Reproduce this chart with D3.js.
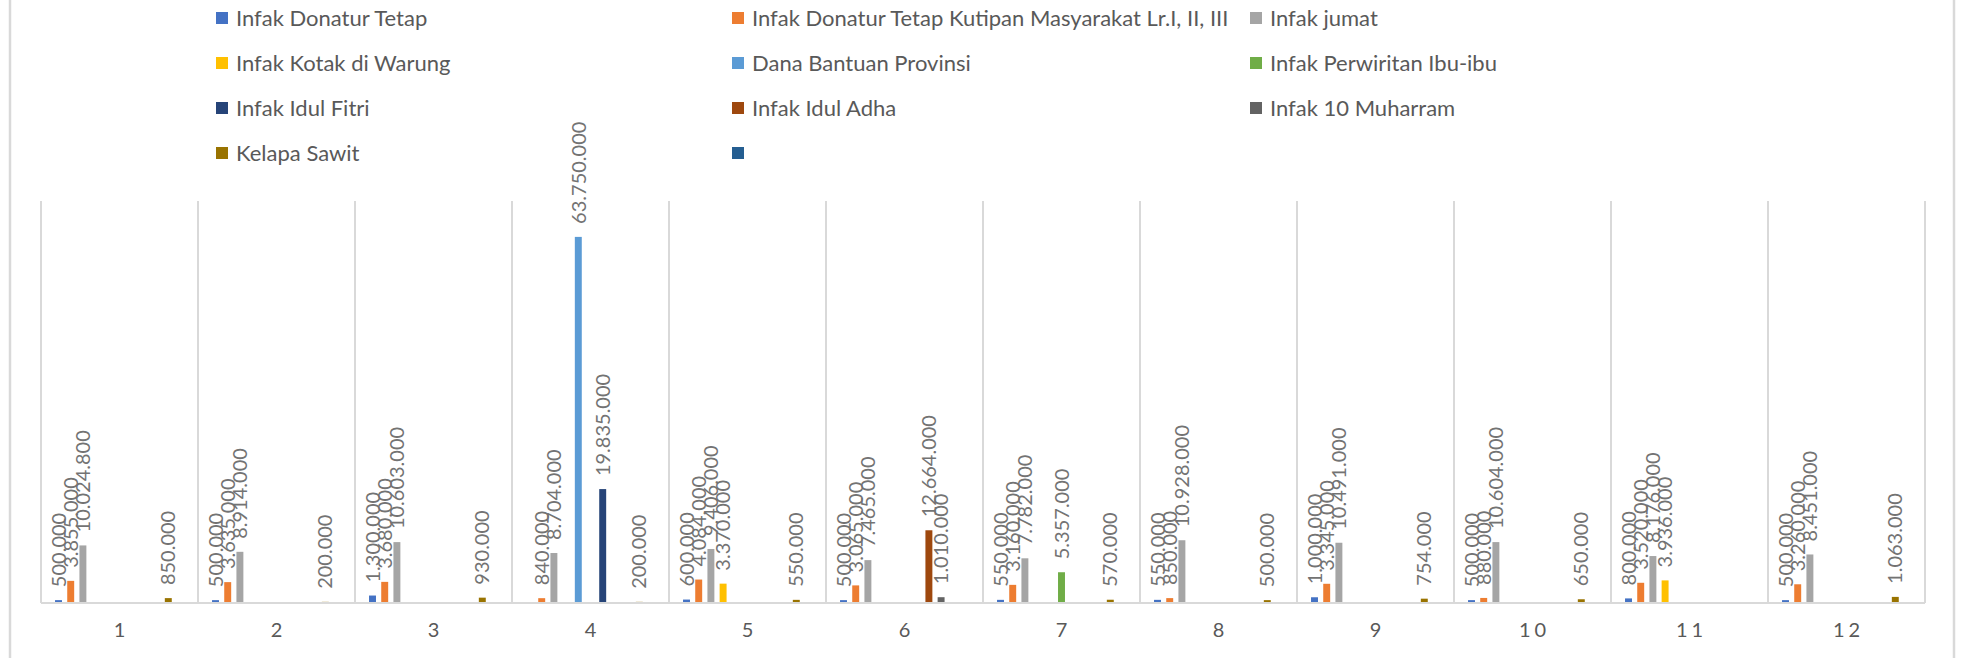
<!DOCTYPE html>
<html>
<head>
<meta charset="utf-8">
<script src="https://cdn.jsdelivr.net/npm/d3@7"></script>
<style>
  body { margin: 0; background: #fff; }
  text { font-family: Lato, "Open Sans", sans-serif; }
</style>
</head>
<body>
<div id="chart"></div>
<script>
// bulan
const months = ["1", "2", "3", "4", "5", "6", "7", "8", "9", "10", "11", "12"];

const seriesNames = [
    "Infak Donatur Tetap",
    "Infak Donatur Tetap Kutipan Masyarakat Lr.I, II, III",
    "Infak jumat",
    "Infak Kotak di Warung",
    "Dana Bantuan Provinsi",
    "Infak Perwiritan Ibu-ibu",
    "Infak Idul Fitri",
    "Infak Idul Adha",
    "Infak 10 Muharram",
    "Kelapa Sawit",
    ""
];

const seriesColors = ["#4472C4", "#ED7D31", "#A5A5A5", "#FFC000", "#5B9BD5", "#70AD47",
    "#264478", "#9E480E", "#636363", "#997300", "#255E91"];

// nilai per bulan (null = kosong)
const donaturTetap = [500000, 500000, 1300000, null, 600000, 500000, 550000, 550000, 1000000, 500000, 800000, 500000];
const kutipan = [3855000, 3635000, 3680000, 840000, 4084000, 3065000, 3160000, 850000, 3345000, 880000, 3520000, 3260000];
const jumat = [10024800, 8914000, 10603000, 8704000, 9406000, 7465000, 7782000, 10928000, 10491000, 10604000, 8176000, 8451000];
const kotakWarung = [null, null, null, null, 3370000, null, null, null, null, null, 3936000, null];
const danaProvinsi = [null, null, null, 63750000, null, null, null, null, null, null, null, null];
const perwiritan = [null, null, null, null, null, null, 5357000, null, null, null, null, null];
const idulFitri = [null, null, null, 19835000, null, null, null, null, null, null, null, null];
const idulAdha = [null, null, null, null, null, 12664000, null, null, null, null, null, null];
const muharram = [null, null, null, null, null, 1010000, null, null, null, null, null, null];
const kelapaSawit = [850000, 200000, 930000, 200000, 550000, null, 570000, 500000, 754000, 650000, null, 1063000];
const kosong = [null, null, null, null, null, null, null, null, null, null, null, null];

const seriesValues = [donaturTetap, kutipan, jumat, kotakWarung, danaProvinsi, perwiritan,
    idulFitri, idulAdha, muharram, kelapaSawit, kosong];

const width = 1961, height = 658;
const plotLeft = 41, plotRight = 1925, plotTop = 201, plotBottom = 603;

const svg = d3.select("#chart").append("svg")
    .attr("width", width)
    .attr("height", height);

// border chart
svg.append("rect")
    .attr("x", 10).attr("y", -10)
    .attr("width", 1944).attr("height", 690)
    .attr("fill", "none")
    .attr("stroke", "#D9D9D9")
    .attr("stroke-width", 2.5);

const x0 = d3.scaleBand().domain(months).range([plotLeft, plotRight]);
const x1 = d3.scaleBand().domain(d3.range(seriesNames.length))
    .range([0, x0.bandwidth()])
    .paddingInner(0.43)
    .paddingOuter(1.15);
const y = d3.scaleLinear().domain([0, 70000000]).range([plotBottom, plotTop]);

// garis grid vertikal
const gridX = months.map(m => x0(m)).concat([plotRight]);
svg.append("g").selectAll("line")
    .data(gridX)
    .enter().append("line")
    .attr("x1", d => d).attr("x2", d => d)
    .attr("y1", plotTop).attr("y2", plotBottom)
    .attr("stroke", "#D9D9D9")
    .attr("stroke-width", 2);

const fmt = v => d3.format(",")(v).replace(/,/g, ".");

const groups = svg.append("g").selectAll("g")
    .data(months)
    .enter().append("g")
    .attr("transform", d => `translate(${x0(d)},0)`);

const cells = groups.selectAll("g.cell")
    .data((m, mi) => seriesValues.map((vals, si) => ({ si, value: vals[mi] })).filter(d => d.value != null))
    .enter().append("g")
    .attr("class", "cell");

cells.append("rect")
    .attr("x", d => x1(d.si))
    .attr("y", d => y(d.value))
    .attr("width", x1.bandwidth())
    .attr("height", d => plotBottom - y(d.value))
    .attr("fill", d => seriesColors[d.si]);

cells.append("text")
    .attr("transform", d => `translate(${x1(d.si) + x1.bandwidth() / 2},${y(d.value) - 13}) rotate(-90)`)
    .attr("dy", "0.36em")
    .attr("font-size", 20)
    .attr("fill", "#737373")
    .text(d => fmt(d.value));

// sumbu bawah
svg.append("line")
    .attr("x1", plotLeft).attr("x2", plotRight)
    .attr("y1", plotBottom).attr("y2", plotBottom)
    .attr("stroke", "#D9D9D9")
    .attr("stroke-width", 2);

const xAxis = svg.append("g")
    .attr("transform", `translate(0,${plotBottom})`)
    .call(d3.axisBottom(x0).tickSize(0).tickPadding(20));
xAxis.select(".domain").remove();
xAxis.selectAll("text")
    .attr("font-family", "Lato, sans-serif")
    .attr("font-size", 20)
    .attr("letter-spacing", 4)
    .attr("dx", 2)
    .attr("fill", "#595959");

// legenda
const legendCols = [216, 732, 1250];
const legend = svg.append("g").selectAll("g")
    .data(seriesNames)
    .enter().append("g")
    .attr("transform", (d, i) => `translate(${legendCols[i % 3]},${18 + Math.floor(i / 3) * 45})`);

legend.append("rect")
    .attr("x", 0).attr("y", -6)
    .attr("width", 12).attr("height", 12)
    .attr("fill", (d, i) => seriesColors[i]);

legend.append("text")
    .attr("x", 20)
    .attr("dy", "0.35em")
    .attr("font-size", 22)
    .attr("fill", "#595959")
    .text(d => d);
</script>
</body>
</html>
